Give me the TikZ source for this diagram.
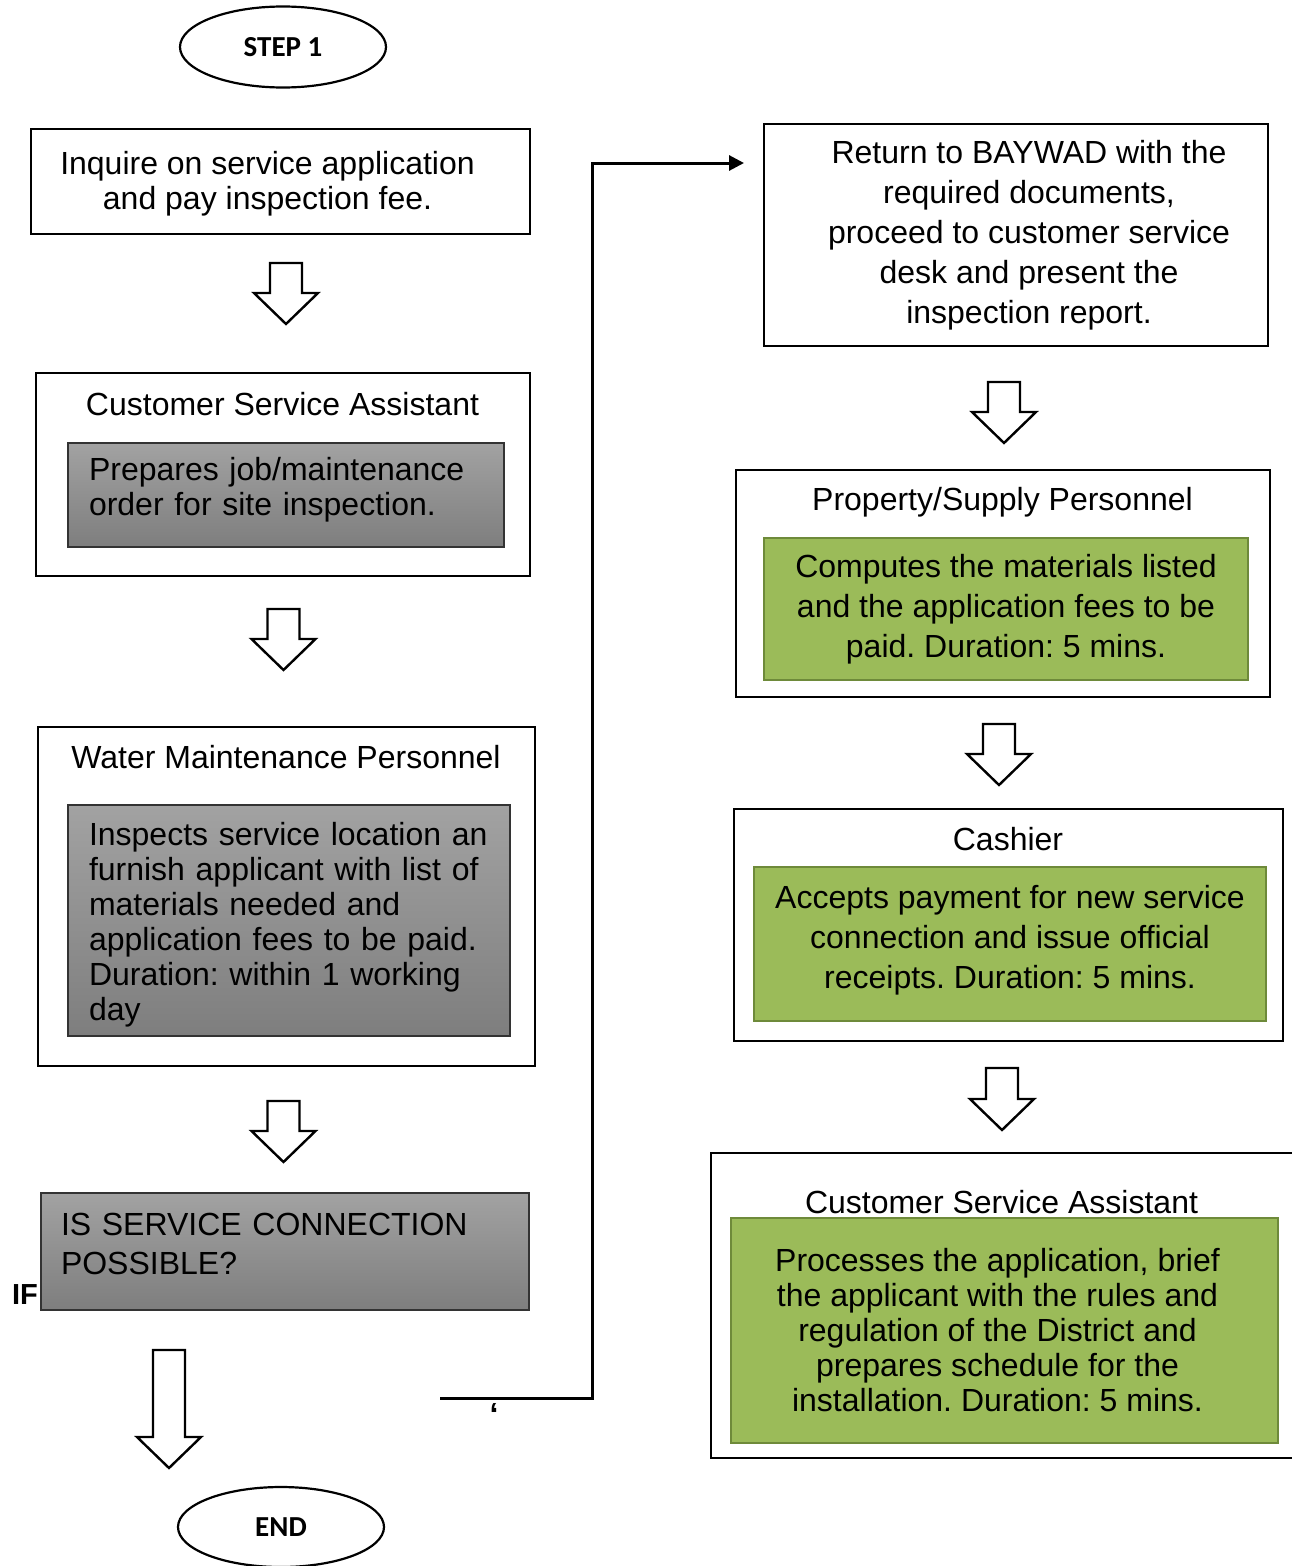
\documentclass[tikz,border=0pt]{standalone}
\usepackage{fontspec}
\setmainfont{Liberation Sans}
\newfontfamily\calibri{Carlito}
\usepackage{tikz}
\usetikzlibrary{shapes.geometric}
\usetikzlibrary{arrows.meta}
\definecolor{shadetop}{HTML}{A2A2A2}
\definecolor{shadebot}{HTML}{7E7E7E}
\definecolor{olivefill}{HTML}{9BBB59}
\definecolor{olivedraw}{HTML}{6E8A3A}
\frenchspacing

\tikzset{
	terminal/.style={ellipse,draw,line width=2.2pt,minimum width=206pt,minimum height=81pt,
		font=\calibri\bfseries\fontsize{29}{35}\selectfont},
	plainbox/.style={draw,line width=2pt,align=center,inner sep=0pt,font=\fontsize{32}{35}\selectfont},
	title/.style={inner sep=0pt,font=\fontsize{32}{35}\selectfont},
	greybox/.style={draw=black!80,line width=1.5pt,top color=shadetop,bottom color=shadebot,
		align=left,inner xsep=21pt,inner ysep=0pt,font=\fontsize{32}{35}\selectfont},
	greenbox/.style={draw=olivedraw,line width=2.5pt,fill=olivefill,align=center,inner sep=0pt,
		font=\fontsize{32}{40}\selectfont},
	pics/downarrow/.style={code={
		\draw[line width=2.4pt,fill=white] (-16,0) -- (16,0) -- (16,{#1-31}) -- (32,{#1-31})
		-- (0,#1) -- (-32,{#1-31}) -- (-16,{#1-31}) -- cycle;
	}}
}

\begin{document}
\begin{tikzpicture}[x=1pt,y=-1pt,>={Triangle[length=15pt,width=15pt]}]
\useasboundingbox (0,0) rectangle (1291,1566);

\node[terminal] (step) at (283,47) {STEP 1};
\node[plainbox,minimum width=499pt,minimum height=105pt,text depth=2pt] (inq) at (280.5,181.5)
	{Inquire on service application\hspace*{26pt}\\and pay inspection fee.\hspace*{26pt}};
\pic (a1) at (286,263) {downarrow=61};

\node[draw,line width=2pt,minimum width=494pt,minimum height=203pt] (csa) at (283,474.5) {};
\node[title] (csat) at (282.5,404) {Customer Service Assistant};
\node[greybox,text width=394pt,minimum height=104pt,text depth=52pt] (prep) at (286,495)
	{Prepares job/maintenance\\order for site inspection.};
\pic (a2) at (283.5,609) {downarrow=61};

\node[draw,line width=2pt,minimum width=497pt,minimum height=339pt] (wmp) at (286.5,896.5) {};
\node[title] (wmpt) at (286,757) {Water Maintenance Personnel};
\node[greybox,text width=400pt,minimum height=231pt,text depth=174pt] (insp) at (289,920.5)
	{Inspects service location an\\furnish applicant with list of\\materials needed and\\application fees to be paid.\\Duration: within 1 working\\day};
\pic (a3) at (283.5,1101) {downarrow=61};

\node[greybox,inner xsep=20pt,text width=448pt,minimum height=117pt,text depth=55pt,
	font=\fontsize{32}{39}\selectfont] (poss) at (285,1251.5)
	{IS SERVICE CONNECTION\\POSSIBLE?};
\node[inner sep=0pt,font=\bfseries\fontsize{29}{35}\selectfont] (if) at (25,1295) {IF};
\pic (a4) at (169,1350) {downarrow=118};
\node[terminal,minimum height=80pt] (end) at (281,1527) {END};

\node[plainbox,minimum width=504pt,minimum height=222pt,font=\fontsize{32}{40}\selectfont] (ret) at (1016,235)
	{\hspace*{26pt}Return to BAYWAD with the\\\hspace*{26pt}required documents,\\\hspace*{26pt}proceed to customer service\\\hspace*{26pt}desk and present the\\\hspace*{26pt}inspection report.};
\pic (a5) at (1004,382) {downarrow=61};

\node[draw,line width=2pt,minimum width=534pt,minimum height=227pt] (psp) at (1003,583.5) {};
\node[title] (pspt) at (1002.5,502) {Property/Supply Personnel};
\node[greenbox,minimum width=484pt,minimum height=142pt] (comp) at (1006,609)
	{Computes the materials listed\\and the application fees to be\\paid. Duration: 5 mins.};
\pic (a6) at (999,724) {downarrow=61};

\node[draw,line width=2pt,minimum width=549pt,minimum height=232pt] (cash) at (1008.5,925) {};
\node[title] (casht) at (1008,839) {Cashier};
\node[greenbox,minimum width=512pt,minimum height=154pt,text depth=15pt] (acc) at (1010,944)
	{Accepts payment for new service\\connection and issue official\\receipts. Duration: 5 mins.};
\pic (a7) at (1002,1068) {downarrow=62};

\node[draw,line width=2pt,minimum width=585pt,minimum height=305pt] (csb) at (1003.5,1305.5) {};
\node[title] (csbt) at (1001.5,1202) {Customer Service Assistant};
\node[greenbox,minimum width=547pt,minimum height=225pt,font=\fontsize{32}{35}\selectfont] (proc) at (1004.5,1330.5)
	{\hspace*{-14pt}Processes the application, brief\\\hspace*{-14pt}the applicant with the rules and\\\hspace*{-14pt}regulation of the District and\\\hspace*{-14pt}prepares schedule for the\\\hspace*{-14pt}installation. Duration: 5 mins.};

\coordinate (yes) at (440,1398);
\coordinate (turn) at (592,163);
\draw[->,line width=3pt,shorten >=19pt] (yes) -| (turn) -- (turn -| ret.west);
\node[inner sep=0pt,font=\bfseries\fontsize{32}{32}\selectfont] (tick) at (494,1414) {`};
\end{tikzpicture}
\end{document}
